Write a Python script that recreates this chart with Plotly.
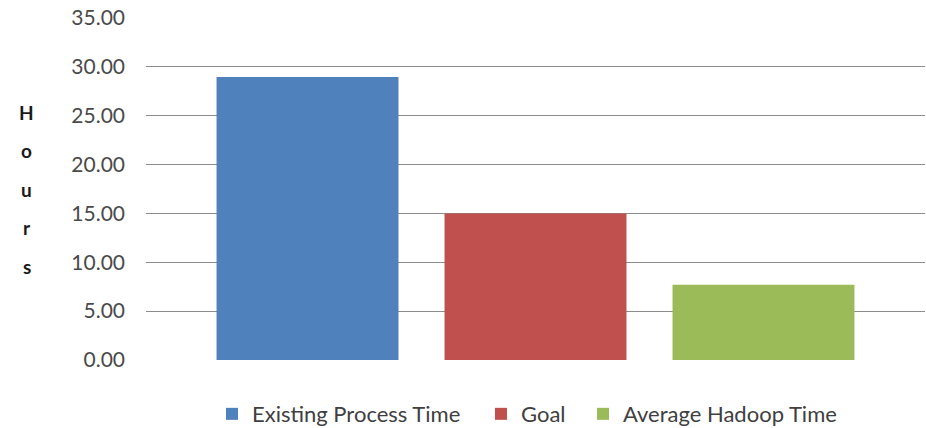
import plotly.graph_objects as go

series_names = ["Existing Process Time", "Goal", "Average Hadoop Time"]
series_values = [28.95, 15.0, 7.7]
series_colors = ["#4F81BD", "#C0504D", "#9BBB59"]
y_ticks = [0, 5, 10, 15, 20, 25, 30, 35]
y_title = "Hours"

legend_ids = ["legend", "legend2", "legend3"]
legend_x = [0.0847, 0.430, 0.561]

fig = go.Figure()
for name, val, col, lid in zip(series_names, series_values, series_colors, legend_ids):
    fig.add_trace(go.Bar(x=[""], y=[val], name=name, legend=lid,
                         marker=dict(color=col, line=dict(width=0))))

leg_common = dict(orientation="h", y=-0.158, yanchor="middle", xanchor="left",
                  font=dict(size=22, color="#404040"), itemwidth=30,
                  bgcolor="rgba(0,0,0,0)")

fig.update_layout(
    width=926, height=428,
    margin=dict(l=146, r=1, t=18, b=68, autoexpand=False),
    paper_bgcolor="white", plot_bgcolor="white",
    barmode="group", bargap=0.122, bargroupgap=0.202,
    font=dict(family="Lato, Open Sans, sans-serif", size=21, color="#4a4a4a"),
    showlegend=True,
    legend=dict(x=legend_x[0], **leg_common),
    legend2=dict(x=legend_x[1], **leg_common),
    legend3=dict(x=legend_x[2], **leg_common),
    xaxis=dict(showticklabels=False, showgrid=False, zeroline=False, showline=False),
    yaxis=dict(range=[0, 35], tickvals=y_ticks, tickformat=".2f", showgrid=True,
               gridcolor="#8C8C8C", gridwidth=1, zeroline=False, showline=False,
               ticks="", ticklabelstandoff=20),
)

for i, ch in enumerate(y_title):
    fig.add_annotation(text="<b>" + ch + "</b>", xref="paper", yref="paper",
                       x=-0.153, y=(360 - 112 - i * 38.5) / 342, xanchor="center", yanchor="middle",
                       showarrow=False, font=dict(size=19, color="#1a1a1a"))

fig.write_html("out.html")
